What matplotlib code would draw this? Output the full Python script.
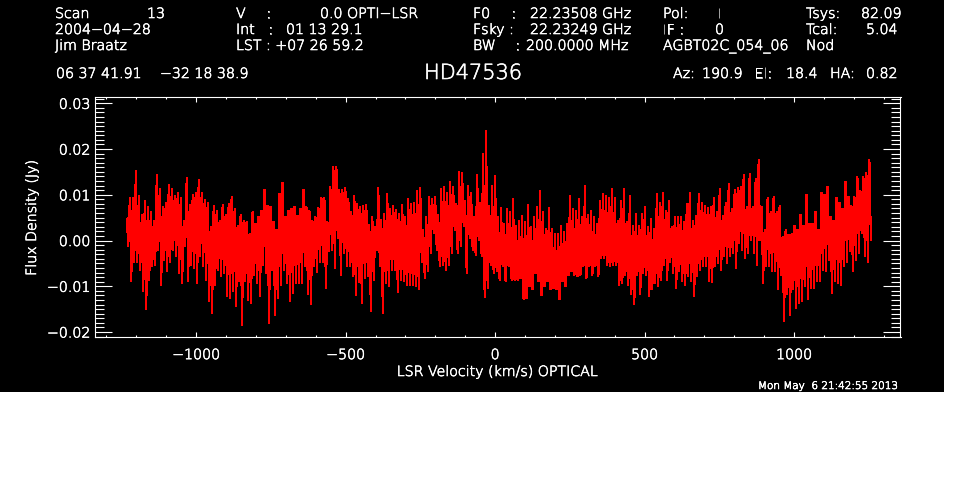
import numpy as np
import matplotlib
matplotlib.use('Agg')
import matplotlib.pyplot as plt
import matplotlib.patheffects as pe
from matplotlib.patches import Rectangle
from matplotlib.text import Text
from matplotlib.ticker import MultipleLocator

# spectrum, upper and lower edge per 10 km/s bin (mJy)
flux_high = [
    4.8, 9.5, 9.4, 15.4, 9.8, 5.7, 8.8, 7.5, 6.3, 4.4, 14.5, 11.4, 7.4, 8.4, 12.3, 11.4, 9.9, 10.6, 9.5, 4.4,
    13.8, 7.9, 10.1, 10.6, 13.3, 10.5, 9.0, 8.4, 3.0, 7.7, 6.5, 4.4, 7.9, 5.7, 8.1, 9.7, 7.0, 3.3, 5.7, 4.4,
    4.1, 1.5, 6.3, 3.7, 5.2, 6.6, 11.2, 7.6, 7.4, 4.1, 2.3, 10.3, 12.7, 5.3, 6.6, 7.0, 7.4, 5.5, 7.0, 11.2,
    7.4, 6.6, 4.3, 5.3, 7.2, 9.5, 9.4, 4.1, 11.7, 16.2, 16.2, 11.1, 11.1, 11.6, 9.2, 6.3, 9.9, 8.1, 7.4, 7.7,
    7.9, 3.6, 5.3, 3.0, 11.6, 4.6, 5.9, 10.3, 7.0, 7.7, 6.8, 5.9, 7.9, 5.2, 9.2, 8.1, 8.4, 11.0, 11.6, 2.3,
    5.3, 9.7, 9.2, 9.7, 5.7, 11.4, 11.7, 10.6, 13.0, 11.7, 8.1, 15.1, 14.9, 8.8, 12.1, 10.6, 5.3, 14.5, 8.4, 19.0,
    24.1, 7.7, 12.1, 14.3, 5.2, 7.2, 3.7, 7.0, 6.3, 9.2, 3.3, 4.4, 5.5, 4.1, 7.9, 3.0, 5.2, 7.4, 11.0, 6.3,
    2.6, 7.2, 2.6, 1.5, 1.5, 3.3, 1.9, 3.7, 9.9, 7.0, 6.5, 9.2, 5.2, 12.1, 5.7, 6.6, 5.2, 3.7, 8.8, 10.3,
    9.9, 9.5, 11.4, 9.5, 4.4, 8.8, 11.4, 4.1, 9.9, 3.3, 5.9, 3.3, 5.9, 7.4, 3.0, 4.8, 2.6, 10.3, 8.4, 10.6,
    6.6, 8.8, 3.0, 5.2, 5.3, 5.3, 4.1, 8.1, 10.5, 4.4, 5.5, 10.3, 8.4, 7.7, 7.2, 7.4, 9.5, 6.3, 11.4, 5.5,
    8.4, 12.4, 7.0, 11.2, 11.6, 11.9, 14.5, 7.4, 14.6, 7.4, 13.5, 17.7, 7.4, 2.3, 9.5, 6.3, 9.7, 6.3, 7.7, 0.8,
    2.3, 1.4, 1.5, 3.3, 2.3, 5.7, 3.3, 10.1, 3.7, 3.7, 6.3, 2.3, 10.6, 10.1, 11.9, 5.2, 4.4, 9.4, 8.2, 7.0,
    13.0, 9.7, 7.7, 9.7, 14.0, 11.0, 14.0, 14.8, 17.7,
]
flux_low = [
    -1.4, -9.0, -4.7, -4.7, -6.5, -11.2, -15.1, -8.7, -5.7, -5.4, -2.1, -9.8, -4.3, -6.7, -4.7, -2.1, -3.6, -7.2, -9.4, -1.4,
    -9.0, -5.4, -6.1, -9.4, -3.6, -5.7, -8.8, -13.4, -15.9, -9.8, -6.5, -7.9, -7.2, -12.3, -12.7, -11.2, -14.5, -9.0, -18.5, -9.0,
    -13.2, -13.8, -7.6, -9.4, -12.3, -5.4, -7.2, -18.1, -6.5, -16.3, -12.7, -9.8, -6.5, -9.4, -13.4, -11.6, -9.4, -9.4, -9.4, -5.7,
    -11.9, -14.1, -5.7, -7.1, -4.7, -4.7, -10.6, -2.5, -2.1, -6.1, 0.4, -7.6, -2.8, -5.7, -5.7, -7.9, -12.1, -9.2, -13.8, -8.3,
    -7.9, -15.6, -8.7, -2.1, -5.7, -15.9, -9.4, -10.1, -6.5, -6.5, -11.4, -8.7, -9.0, -9.8, -9.8, -9.8, -10.1, -10.8, -4.7, -8.3,
    -6.8, -2.8, 1.5, -2.1, -5.6, -5.4, -6.5, -5.4, -2.8, 2.3, -2.8, -1.4, 3.0, -7.2, 0.4, -2.1, -3.2, 0.1, -3.6, -12.5,
    -10.5, -5.4, -7.2, -6.8, -8.7, -5.7, -9.0, -5.7, -8.7, -8.7, -8.7, -8.3, -12.8, -12.7, -10.1, -10.8, -7.2, -9.0, -12.1, -10.1,
    -9.0, -10.7, -10.5, -10.7, -12.8, -9.0, -10.1, -7.6, -6.8, -7.6, -7.9, -7.6, -5.7, -8.3, -5.7, -7.6, -5.7, -7.9, -3.9, -3.9,
    -5.4, -5.7, -5.4, -5.4, -9.8, -9.4, -7.6, -9.8, -11.9, -14.1, -7.6, -11.9, -7.2, -7.6, -12.3, -10.8, -9.4, -10.1, -8.7, -5.4,
    -8.7, -4.7, -7.2, -10.6, -6.8, -9.0, -9.8, -7.8, -9.0, -12.3, -7.9, -6.5, -5.7, -5.7, -9.0, -9.2, -5.7, -5.0, -6.5, -3.6,
    -5.0, -3.6, -2.8, -6.1, -0.7, -2.1, -3.9, -2.8, 0.1, -2.8, -5.4, 0.1, -9.4, -5.7, -5.7, -6.8, -6.8, -10.7, -7.6, -17.8,
    -11.9, -16.3, -10.8, -14.8, -13.8, -13.4, -10.1, -13.0, -10.5, -10.5, -9.0, -9.0, -6.5, -6.8, -4.3, -11.6, -9.0, -9.4, -9.8, -5.7,
    -4.7, -2.5, -6.8, -4.3, -2.8, 1.5, -3.6, -4.7, 0.1,
]
velocity_first = -1232.0
velocity_last = 1257.0

x_ticks = [-1000, -500, 0, 500, 1000]
y_ticks = [-0.02, -0.01, 0.0, 0.01, 0.02, 0.03]

plt.rcParams['font.family'] = ['DejaVu Sans']
plt.rcParams['font.weight'] = 'light'
plt.rcParams['axes.unicode_minus'] = True

W, H = 962, 490
fig = plt.figure(figsize=(W / 100, H / 100), dpi=100, facecolor='white')
fig.add_artist(Rectangle((0, (H - 392) / H), 944 / W, 392 / H, transform=fig.transFigure,
                         facecolor='black', edgecolor='none', zorder=-5))


def label(x, y, s, size=10.2, **kw):
    # x, y in image pixels, y measured from the top, y is the text baseline
    kw.setdefault('va', 'baseline')
    fig.text(x / W, 1 - y / H, s, color='white', fontsize=size, **kw)


ax = fig.add_axes([94.5 / W, (H - 337) / H, 806 / W, 240 / H], facecolor='black')

# zigzag between the edges, half a bin apart, so the middle fills in solid
n = len(flux_high)
vel = np.linspace(velocity_first, velocity_last, 2 * n)
flux = np.empty(2 * n)
flux[0::2] = flux_high
flux[1::2] = flux_low
ax.plot(vel, flux / 1000, color='red', lw=0.78, antialiased=False, solid_joinstyle='miter')

ax.set_xlim(-1340, 1356)
ax.set_ylim(-0.0211, 0.03138)
ax.set_xticks(x_ticks)
ax.set_xticklabels(['\u22121000', '\u2212500', '0', '500', '1000'])
ax.set_yticks(y_ticks)
ax.set_yticklabels(['\u22120.02', '\u22120.01', '0.00', '0.01', '0.02', '0.03'])
ax.xaxis.set_minor_locator(MultipleLocator(100))
ax.yaxis.set_minor_locator(MultipleLocator(0.001))
ax.tick_params(axis='x', which='major', direction='in', top=True, length=3.9, width=0.8, color='white',
               labelcolor='white', labelsize=10.2, pad=8)
ax.tick_params(axis='x', which='minor', direction='in', top=True, length=1.5, width=0.8, color='white')
ax.tick_params(axis='y', which='major', direction='in', right=True, length=12.2, width=0.8, color='white',
               labelcolor='white', labelsize=10.2, pad=3)
ax.tick_params(axis='y', which='minor', direction='in', right=True, length=6.5, width=0.8, color='white')
for spine in ax.spines.values():
    spine.set_color('white')
    spine.set_linewidth(0.8)

label(497, 376, 'LSR Velocity (km/s) OPTICAL', ha='center')
label(36, 218, 'Flux Density (Jy)', ha='center', rotation=90, rotation_mode='anchor')

# header block
label(55, 18, 'Scan')
label(147, 18, '13')
label(55, 34, '2004\u221204\u221228')
label(55, 50, 'Jim Braatz')
label(56, 78, '06 37 41.91')
label(160, 78, '\u221232 18 38.9')

label(236, 18, 'V')
label(266, 18, ':')
label(320, 18, '0.0 OPTI\u2212LSR')
label(236, 34, 'Int')
label(268, 34, ':')
label(286, 34, '01 13 29.1')
label(236, 50, 'LST : +07 26 59.2')

label(473, 18, 'F0')
label(511, 18, ':')
label(530, 18, '22.23508 GHz')
label(473, 34, 'Fsky :')
label(530, 34, '22.23249 GHz')
label(473, 50, 'BW')
label(515, 50, ':')
label(526, 50, '200.0000 MHz')

label(663, 18, 'Pol:')
label(717, 18, 'I')
label(662, 34, 'IF :')
label(715, 34, '0')
label(663, 50, 'AGBT02C_054_06')

label(806, 18, 'Tsys:')
label(861, 18, '82.09')
label(806, 34, 'Tcal:')
label(866, 34, '5.04')
label(806, 50, 'Nod')

label(673, 78, 'Az:')
label(702, 78, '190.9')
label(754, 78, 'El:')
label(786, 78, '18.4')
label(830, 78, 'HA:')
label(866, 78, '0.82')

label(473, 79, 'HD47536', size=15, ha='center')
label(758, 389, 'Mon May  6 21:42:55 2013', size=7.5)

# brighten the thin glyphs, the original strokes are pure white
for t in fig.findobj(Text):
    t.set_path_effects([pe.withStroke(linewidth=0.45, foreground='white')])

fig.savefig('out.png', dpi=100, facecolor=fig.get_facecolor())
